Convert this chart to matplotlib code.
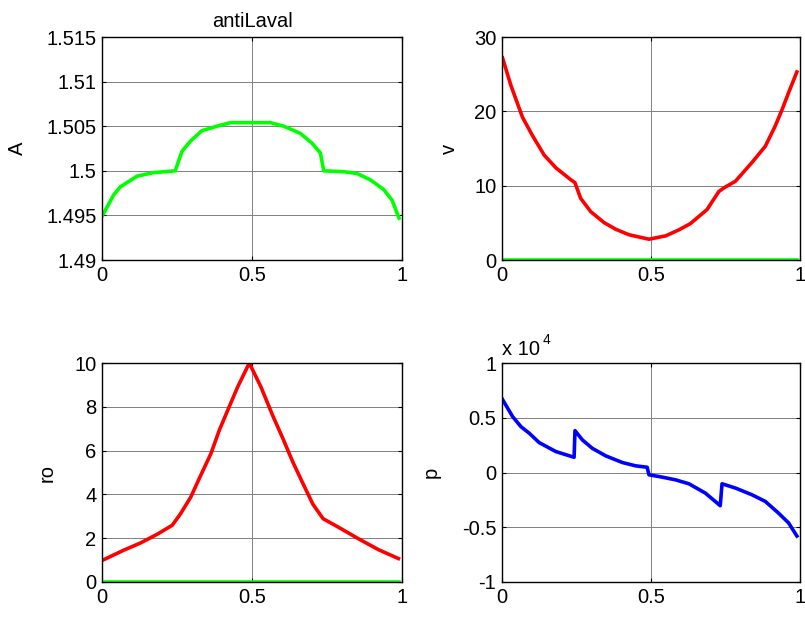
import matplotlib
matplotlib.use('Agg')
import matplotlib.pyplot as plt
from matplotlib.ticker import FuncFormatter

plt.rcParams['font.family'] = ['Liberation Sans', 'DejaVu Sans']
plt.rcParams['font.size'] = 14.5

# area A(x)
xA = [0.0, 0.039, 0.061, 0.117, 0.172, 0.244, 0.267, 0.294, 0.333, 0.383, 0.428, 0.494,
      0.561, 0.606, 0.661, 0.70, 0.728, 0.739, 0.806, 0.85, 0.894, 0.939, 0.967, 0.99]
A = [1.4949, 1.4973, 1.4982, 1.4994, 1.4998, 1.5000, 1.5022, 1.5033, 1.5045, 1.5050, 1.5054, 1.5054,
     1.5054, 1.5050, 1.5042, 1.5031, 1.5020, 1.5000, 1.4999, 1.4997, 1.4990, 1.4979, 1.4967, 1.4947]

# velocity v(x)
xv = [0.002, 0.03, 0.069, 0.103, 0.142, 0.181, 0.231, 0.245, 0.264, 0.298, 0.342, 0.381, 0.426, 0.493,
      0.549, 0.593, 0.632, 0.688, 0.727, 0.744, 0.783, 0.838, 0.883, 0.916, 0.938, 0.966, 0.989]
v = [27.2, 23.5, 19.2, 16.7, 14.1, 12.4, 10.8, 10.4, 8.3, 6.5, 5.05, 4.15, 3.4, 2.8,
     3.25, 4.05, 4.9, 6.8, 9.2, 9.7, 10.6, 13.1, 15.3, 18.0, 20.1, 23.0, 25.3]

# density ro(x)
xro = [0.003, 0.072, 0.128, 0.184, 0.234, 0.262, 0.296, 0.324, 0.363, 0.391, 0.419, 0.452, 0.491,
       0.53, 0.569, 0.603, 0.636, 0.67, 0.703, 0.737, 0.787, 0.854, 0.921, 0.988]
ro = [1.0, 1.45, 1.78, 2.18, 2.59, 3.12, 3.88, 4.72, 5.86, 6.93, 7.84, 8.9, 10.0,
      8.9, 7.6, 6.55, 5.48, 4.49, 3.55, 2.89, 2.51, 1.98, 1.48, 1.07]

# pressure p(x)
xp = [0.002, 0.036, 0.064, 0.092, 0.125, 0.181, 0.242, 0.245, 0.27, 0.303, 0.348, 0.404, 0.448, 0.487,
      0.493, 0.537, 0.582, 0.627, 0.682, 0.732, 0.738, 0.783, 0.838, 0.883, 0.927, 0.961, 0.989]
p = [6670, 5100, 4180, 3580, 2730, 1910, 1390, 3820, 2970, 2210, 1520, 910, 610, 480,
     -210, -420, -670, -1030, -1880, -3030, -1030, -1420, -2030, -2640, -3700, -4600, -5800]

# zero line shown in green
xzero = [0.0, 0.99]
zero = [0.0, 0.0]

red = (1, 0, 0)
green = (0, 1, 0)
blue = (0, 0, 1)
lw = 2.6

fig = plt.figure(figsize=(8.05, 6.2), dpi=100)
ax1 = fig.add_axes([0.1267, 0.5806, 0.3727, 0.3597])
ax2 = fig.add_axes([0.6235, 0.5806, 0.3705, 0.3597])
ax3 = fig.add_axes([0.1267, 0.0613, 0.3727, 0.3532])
ax4 = fig.add_axes([0.6235, 0.0613, 0.3705, 0.3532])

gfmt = FuncFormatter(lambda val, pos: '%g' % round(val, 6))

for ax in [ax1, ax2, ax3, ax4]:
    ax.set_xlim(0, 1)
    ax.set_xticks([0, 0.5, 1])
    ax.xaxis.set_major_formatter(gfmt)
    ax.grid(True, color=(0.5, 0.5, 0.5), lw=0.7)
    ax.tick_params(direction='in', top=True, right=True, length=3, width=0.8, pad=4)
    for s in ax.spines.values():
        s.set_linewidth(1.0)

ax1.plot(xA, A, color=green, lw=lw)
ax1.set_ylim(1.49, 1.515)
ax1.set_yticks([1.49, 1.495, 1.5, 1.505, 1.51, 1.515])
ax1.yaxis.set_major_formatter(gfmt)
ax1.set_ylabel('A', labelpad=14)
ax1.set_title('antiLaval', fontsize=14.5, pad=7)

ax2.plot(xv, v, color=red, lw=lw)
ax2.plot(xzero, zero, color=green, lw=lw)
ax2.set_ylim(0, 30)
ax2.set_yticks([0, 10, 20, 30])
ax2.yaxis.set_major_formatter(gfmt)
ax2.set_ylabel('v', labelpad=11)

ax3.plot(xro, ro, color=red, lw=lw)
ax3.plot(xzero, zero, color=green, lw=lw)
ax3.set_ylim(0, 10)
ax3.set_yticks([0, 2, 4, 6, 8, 10])
ax3.yaxis.set_major_formatter(gfmt)
ax3.set_ylabel('ro', labelpad=13)

ax4.plot(xp, p, color=blue, lw=lw)
ax4.set_ylim(-1e4, 1e4)
ax4.set_yticks([-1e4, -0.5e4, 0, 0.5e4, 1e4])
ax4.yaxis.set_major_formatter(FuncFormatter(lambda val, pos: '%g' % round(val / 1e4, 6)))
ax4.set_ylabel('p', labelpad=15)
ax4.text(0.0, 1.02, 'x 10', transform=ax4.transAxes, ha='left', va='bottom', fontsize=14.5)
ax4.text(0.135, 1.075, '4', transform=ax4.transAxes, ha='left', va='bottom', fontsize=10)

fig.savefig('out.png', dpi=100)
